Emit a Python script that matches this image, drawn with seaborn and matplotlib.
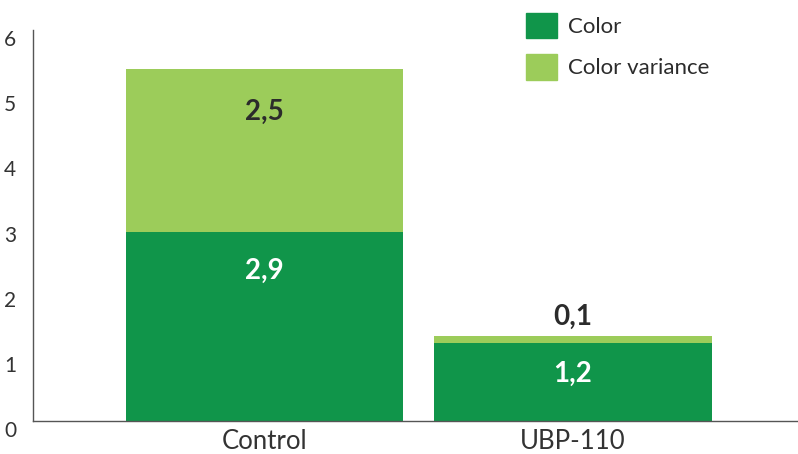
import matplotlib
matplotlib.use("Agg")
import matplotlib.pyplot as plt
import matplotlib.patches as mpatches
import seaborn as sns
import pandas as pd

categories = ["Control", "UBP-110"]
color_vals = [2.9, 1.2]
variance_vals = [2.5, 0.1]
color_labels = ["2,9", "1,2"]
variance_labels = ["2,5", "0,1"]

DARK = "#10954a"
LIGHT = "#9ccc5a"
TEXT = "#2b2b2b"

sns.set_style("white")
plt.rcParams["font.family"] = ["Lato", "DejaVu Sans"]

df = pd.DataFrame({
    "cat": categories,
    "color": color_vals,
    "total": [c + v for c, v in zip(color_vals, variance_vals)],
})

fig = plt.figure(figsize=(7.98, 4.54), dpi=100)
ax = fig.add_axes([33 / 798, 33 / 454, 765 / 798, 391 / 454])

sns.barplot(data=df, x="cat", y="total", color=LIGHT, width=0.9, saturation=1,
            linewidth=0, ax=ax)
sns.barplot(data=df, x="cat", y="color", color=DARK, width=0.9, saturation=1,
            linewidth=0, ax=ax)

# value labels
ax.text(0, df["total"][0] - 0.65, variance_labels[0], ha="center", va="center",
        fontsize=20, fontweight="bold", color=TEXT)
ax.text(0, color_vals[0] - 0.6, color_labels[0], ha="center", va="center",
        fontsize=20, fontweight="bold", color="white")
ax.text(1, df["total"][1] + 0.3, variance_labels[1], ha="center", va="center",
        fontsize=20, fontweight="bold", color=TEXT)
ax.text(1, color_vals[1] - 0.47, color_labels[1], ha="center", va="center",
        fontsize=20, fontweight="bold", color="white")

ax.set_xlim(-0.75, 1.73)
ax.set_ylim(0, 6.0)
ax.set_yticks(range(0, 7))
ax.set_xlabel("")
ax.set_ylabel("")
ax.tick_params(axis="both", length=0, colors="#333333")
ax.tick_params(axis="y", pad=12, labelsize=15)
ax.tick_params(axis="x", pad=6, labelsize=18.5)
for lab in ax.get_yticklabels():
    lab.set_va("top")

for s in ["top", "right"]:
    ax.spines[s].set_visible(False)
for s in ["left", "bottom"]:
    ax.spines[s].set_color("#555555")
    ax.spines[s].set_linewidth(1.0)

handles = [mpatches.Patch(color=DARK, label="Color"),
           mpatches.Patch(color=LIGHT, label="Color variance")]
leg = fig.legend(handles=handles, loc="upper left", bbox_to_anchor=(0.634, 1.016),
                 frameon=False, fontsize=16, handlelength=1.4, handleheight=1.4,
                 handletextpad=0.5, labelspacing=0.7)
for t in leg.get_texts():
    t.set_color(TEXT)

fig.savefig("out.png", dpi=100)
